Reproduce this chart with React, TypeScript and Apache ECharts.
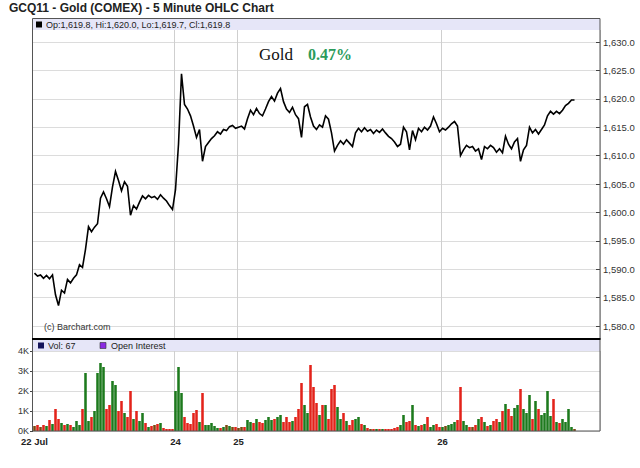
import React, { useEffect, useRef } from "react";
import * as echarts from "echarts";

// ---- data ----
const titleText = "GCQ11 - Gold (COMEX) - 5 Minute OHLC Chart";
const lastBar = { open: 1619.8, high: 1620.0, low: 1619.7, close: 1619.8 };
const lastVolume = 67;
const changePct = "0.47%";
const slotCount = 189; // 5-minute slots across the axis (resampled)
const dayLabels: [number, string][] = [
  [0, "22 Jul"],
  [47, "24"],
  [68, "25"],
  [136, "26"],
];
const priceMin = 1580;
const priceMax = 1630;
const priceStep = 5;
const volMaxK = 4;

const priceCloses = [
  1589.3, 1588.8, 1589.0, 1588.4, 1588.9, 1588.3, 1589.0, 1585.5, 1583.6, 1586.3,
  1585.8, 1588.2, 1587.6, 1588.4, 1589.0, 1590.8, 1590.3, 1593.5, 1597.5, 1596.6,
  1597.4, 1598.0, 1602.5, 1603.6, 1602.4, 1601.0, 1604.5, 1607.2, 1605.6, 1603.8,
  1605.4, 1604.6, 1599.5, 1601.2, 1600.6, 1601.8, 1602.9, 1602.4, 1603.0, 1602.6,
  1602.8, 1602.3, 1603.1, 1602.5, 1602.0, 1601.2, 1600.5, 1604.0, 1612.0, 1624.4,
  1619.0, 1618.2, 1617.0, 1615.2, 1613.2, 1614.6, 1609.0, 1611.6, 1612.3, 1613.0,
  1613.5, 1614.2, 1613.8, 1614.6, 1614.4, 1615.1, 1615.3, 1614.8, 1615.0, 1615.2,
  1614.7, 1616.5, 1618.0, 1617.2, 1618.3, 1617.4, 1617.0, 1618.2, 1619.5, 1620.4,
  1619.6, 1621.0, 1621.8, 1619.5, 1618.2, 1617.6, 1618.5, 1617.2, 1616.5, 1613.2,
  1618.6, 1619.0, 1616.8, 1615.2, 1614.6, 1615.4, 1615.0, 1617.0, 1616.4, 1614.0,
  1610.8, 1611.8, 1612.6, 1612.0, 1612.8, 1612.2, 1611.6, 1614.0, 1614.8, 1614.2,
  1614.9, 1614.3, 1614.6, 1613.9, 1614.5, 1614.1, 1614.7, 1614.0, 1613.4, 1613.0,
  1612.4, 1611.6, 1612.0, 1615.0, 1614.2, 1611.0, 1614.4, 1612.8, 1614.8, 1614.2,
  1615.0, 1614.5, 1615.2, 1616.8, 1615.6, 1614.2, 1614.8, 1614.5, 1615.0, 1615.6,
  1616.0, 1615.2, 1610.0, 1611.0, 1611.8, 1611.4, 1611.6, 1610.8, 1611.2, 1609.3,
  1611.6, 1611.2, 1611.8, 1611.4, 1610.6, 1611.2, 1610.5, 1613.4, 1612.0, 1611.2,
  1612.4, 1613.0, 1609.0, 1611.0, 1611.8, 1615.0, 1614.0, 1614.6, 1613.8, 1614.6,
  1615.4, 1617.0, 1617.8, 1617.3, 1617.8, 1617.4, 1618.0, 1618.8, 1619.2, 1619.8,
  1619.8,
];

// volume in thousands of contracts
const volumesK = [
  0.25, 0.3, 0.2, 0.3, 0.25, 0.55, 0.35, 1.1, 0.6, 0.4,
  0.3, 0.35, 0.3, 0.2, 0.5, 0.3, 1.1, 2.9, 0.5, 0.7,
  1.0, 2.9, 3.4, 3.2, 1.1, 1.3, 2.5, 2.3, 1.0, 1.5,
  0.9, 0.7, 2.0, 0.6, 1.0, 0.5, 0.9, 0.4, 0.2, 0.25,
  0.3, 0.35, 0.4, 0.15, 0.1, 0.1, 0.1, 2.0, 3.2, 1.9,
  0.7, 0.4, 0.35, 0.9, 1.05, 0.45, 1.9, 0.3, 0.3, 0.4,
  0.25, 0.15, 0.15, 0.2, 0.3, 0.25, 0.2, 0.2, 0.15, 0.2,
  0.2, 0.55, 0.45, 0.4, 0.6, 0.45, 0.4, 0.55, 0.7, 0.55,
  0.6, 0.7, 0.8, 0.45, 0.7, 0.45, 0.5, 0.7, 1.1, 2.4,
  1.3, 0.9, 3.3, 2.2, 1.4, 0.8, 1.3, 1.3, 0.6, 2.1,
  2.3, 1.2, 0.6, 0.9, 0.5, 0.3, 0.55, 0.6, 0.7, 0.35,
  0.3, 0.15, 0.1, 0.1, 0.1, 0.1, 0.1, 0.1, 0.1, 0.1,
  0.15, 0.2, 0.3, 0.8, 0.45, 0.5, 1.3, 0.3, 0.25, 0.3,
  0.35, 0.7, 0.2, 0.3, 0.35, 0.2, 0.2, 0.25, 0.3, 0.35,
  0.45, 0.55, 2.2, 0.5, 0.3, 0.2, 0.2, 0.3, 0.6, 0.7,
  0.45, 0.25, 0.3, 0.5, 0.6, 0.45, 1.0, 1.35, 1.1, 0.75,
  1.15, 1.3, 2.1, 1.1, 0.9, 1.8, 0.6, 1.5, 1.1, 0.8,
  0.9, 2.0, 0.75, 1.6, 0.45, 0.4, 0.6, 0.45, 1.1, 0.2,
  0.1,
];

const SANS = "'Liberation Sans', Arial, Helvetica, sans-serif";
const SERIF = "'Liberation Serif', 'Times New Roman', serif";

const fmtPrice = (v: number) =>
  v.toLocaleString("en-US", { minimumFractionDigits: 1, maximumFractionDigits: 1 });

export default function App() {
  const ref = useRef<HTMLDivElement>(null);

  useEffect(() => {
    if (!ref.current) return;
    const chart = echarts.init(ref.current, undefined, { renderer: "svg" });

    const cats = Array.from({ length: slotCount }, (_, i) => String(i));
    const dayMap = new Map<number, string>(dayLabels);
    const isDay = (i: number) => dayMap.has(i);
    const isDayLine = (i: number) => dayMap.has(i) && i > 0;

    const volData = volumesK.map((v, i) => {
      const d = i === 0 ? 0 : priceCloses[i] - priceCloses[i - 1];
      let color = "#7a4a12";
      if (d > 0.3) color = "#1d7a1d";
      else if (d < -0.3) color = "#e3231b";
      return { value: v, itemStyle: { color } };
    });

    const baseX = {
      type: "category" as const,
      data: cats,
      boundaryGap: true,
      axisLine: { show: false },
      axisTick: { show: false },
      axisLabel: { show: false },
      splitLine: { show: false },
    };
    const vLine = {
      show: true,
      interval: (i: number) => isDayLine(i),
      lineStyle: { color: "#cfcfcf", width: 1 },
    };

    const lastClose = priceCloses[priceCloses.length - 1];

    chart.setOption({
      animation: false,
      backgroundColor: "#ffffff",
      grid: [
        { left: 33, right: 40, top: 42, height: 284 },
        { left: 33, right: 40, top: 351, height: 80 },
        { left: 33, right: 40, top: 30, height: 309 },
      ],
      xAxis: [
        { ...baseX, gridIndex: 0 },
        {
          ...baseX,
          gridIndex: 1,
          splitLine: vLine,
          axisLabel: {
            show: true,
            interval: (i: number) => isDay(i),
            formatter: (_v: string, i: number) => dayMap.get(i) ?? "",
            fontFamily: SANS,
            fontWeight: "bold",
            fontSize: 9.5,
            color: "#222",
            margin: 5,
          },
        },
        { ...baseX, gridIndex: 2, splitLine: vLine },
      ],
      yAxis: [
        {
          type: "value",
          gridIndex: 0,
          position: "right",
          min: priceMin,
          max: priceMax,
          interval: priceStep,
          axisLine: { show: false },
          axisTick: { show: true, inside: true, length: 4, lineStyle: { color: "#444" } },
          axisLabel: {
            formatter: (v: number) => fmtPrice(v),
            fontFamily: SANS,
            fontSize: 9.5,
            color: "#333",
            margin: 3,
          },
          splitLine: { show: true, lineStyle: { color: "#dcdcdc" } },
        },
        {
          type: "value",
          gridIndex: 1,
          position: "left",
          min: 0,
          max: volMaxK,
          interval: 1,
          axisLine: { show: false },
          axisTick: { show: true, length: 3, lineStyle: { color: "#444" } },
          axisLabel: {
            formatter: (v: number) => `${v}K`,
            fontFamily: SANS,
            fontSize: 9,
            color: "#333",
            margin: 4,
          },
          splitLine: { show: true, lineStyle: { color: "#dcdcdc" } },
        },
        { type: "value", gridIndex: 2, min: 0, max: 1, show: false },
      ],
      series: [
        {
          type: "line",
          xAxisIndex: 0,
          yAxisIndex: 0,
          data: priceCloses,
          symbol: "none",
          z: 5,
          lineStyle: { color: "#000", width: 1.6, join: "miter" },
          markLine: {
            silent: true,
            symbol: "none",
            lineStyle: { opacity: 0 },
            data: [{ yAxis: lastClose }],
            label: {
              position: "end",
              distance: 3,
              formatter: () => fmtPrice(lastClose),
              backgroundColor: "#000",
              color: "#fff",
              fontFamily: SANS,
              fontSize: 9.5,
              padding: [1, 1, 1, 1],
            },
          },
        },
        {
          type: "bar",
          xAxisIndex: 1,
          yAxisIndex: 1,
          data: volData,
          barCategoryGap: "15%",
          z: 5,
        },
      ],
      graphic: [
        {
          type: "text",
          left: 9,
          top: 2,
          style: {
            text: titleText,
            font: `bold 12px ${SANS}`,
            fill: "#222",
          },
        },
        // price panel header band
        {
          type: "rect",
          z: 10,
          shape: { x: 33, y: 19, width: 567, height: 11 },
          style: { fill: "#e6e6f8" },
        },
        {
          type: "rect",
          z: 11,
          shape: { x: 36, y: 21.5, width: 6, height: 6 },
          style: { fill: "#000" },
        },
        {
          type: "text",
          z: 11,
          x: 46,
          y: 25,
          style: {
            text: `Op:${fmtPrice(lastBar.open)}, Hi:${fmtPrice(lastBar.high)}, Lo:${fmtPrice(
              lastBar.low
            )}, Cl:${fmtPrice(lastBar.close)}`,
            font: `9px ${SANS}`,
            fill: "#222",
            verticalAlign: "middle",
          },
        },
        // Gold change annotation
        {
          type: "text",
          z: 11,
          x: 259,
          y: 54,
          style: {
            text: "Gold",
            font: `17px ${SERIF}`,
            fill: "#111",
            verticalAlign: "middle",
          },
        },
        {
          type: "text",
          z: 11,
          x: 308,
          y: 54,
          style: {
            text: changePct,
            font: `bold 16px ${SERIF}`,
            fill: "#2b9b5b",
            verticalAlign: "middle",
          },
        },
        {
          type: "text",
          z: 11,
          x: 44,
          y: 327,
          style: {
            text: "(c) Barchart.com",
            font: `9px ${SANS}`,
            fill: "#333",
            verticalAlign: "middle",
          },
        },
        // volume panel header band
        {
          type: "rect",
          z: 10,
          shape: { x: 33, y: 340, width: 567, height: 11 },
          style: { fill: "#e6e6f8" },
        },
        {
          type: "rect",
          z: 11,
          shape: { x: 38, y: 342.5, width: 6, height: 6 },
          style: { fill: "#14145a" },
        },
        {
          type: "text",
          z: 11,
          x: 48,
          y: 346,
          style: {
            text: `Vol: ${lastVolume}`,
            font: `9px ${SANS}`,
            fill: "#222",
            verticalAlign: "middle",
          },
        },
        {
          type: "rect",
          z: 11,
          shape: { x: 100, y: 342.5, width: 6, height: 6 },
          style: { fill: "#8a2be2", stroke: "#333", lineWidth: 0.6 },
        },
        {
          type: "text",
          z: 11,
          x: 111,
          y: 346,
          style: {
            text: "Open Interest",
            font: `9px ${SANS}`,
            fill: "#222",
            verticalAlign: "middle",
          },
        },
        // frames
        {
          type: "rect",
          z: 12,
          shape: { x: 32.5, y: 18.5, width: 567.5, height: 320.5 },
          style: { fill: "none", stroke: "#555", lineWidth: 1 },
        },
        {
          type: "rect",
          z: 12,
          shape: { x: 32.5, y: 339, width: 567.5, height: 92 },
          style: { fill: "none", stroke: "#555", lineWidth: 1 },
        },
        {
          type: "line",
          z: 13,
          shape: { x1: 32, y1: 339, x2: 600.5, y2: 339 },
          style: { stroke: "#000", lineWidth: 2 },
        },
      ],
    });

    return () => chart.dispose();
  }, []);

  return (
    <div
      ref={ref}
      style={{ position: "fixed", left: 0, top: 0, width: 640, height: 468, background: "#fff" }}
    />
  );
}
